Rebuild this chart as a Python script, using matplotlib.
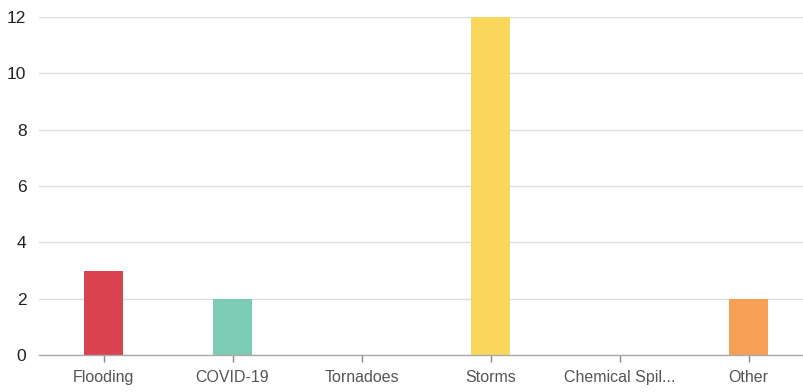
import matplotlib
matplotlib.use("Agg")
import matplotlib.pyplot as plt
import numpy as np

categories = ["Flooding", "COVID-19", "Tornadoes", "Storms", "Chemical Spil...", "Other"]
counts = [3, 2, 0, 12, 0, 2]
colors = ["#d9434e", "#7ccbb5", "#d9434e", "#f9d65c", "#7ccbb5", "#f7a055"]
yticks = [0, 2, 4, 6, 8, 10, 12]

plt.rcParams["font.family"] = ["Liberation Sans", "DejaVu Sans"]

W, H = 804, 392
fig = plt.figure(figsize=(W / 100, H / 100), dpi=100)
left, right, top, bottom = 39, 804, 17, 355
ax = fig.add_axes([left / W, 1 - bottom / H, (right - left) / W, (bottom - top) / H])

x = np.arange(len(categories))
ax.bar(x, counts, width=0.3, color=colors, zorder=3)

ax.set_xlim(-0.5, 5.43)
ax.set_ylim(0, 12)
ax.set_yticks(yticks)
ax.set_xticks(x)
ax.set_xticklabels(categories, fontsize=11.5, color="#555555")
ax.tick_params(axis="y", length=0, pad=9, labelsize=12.5, labelcolor="#222222")
ax.tick_params(axis="x", length=5, width=1, color="#888888", pad=6)

ax.yaxis.grid(True, color="#dddddd", linewidth=1, zorder=0)
for side in ("top", "right", "left"):
    ax.spines[side].set_visible(False)
ax.spines["bottom"].set_color("#aaaaaa")
ax.spines["bottom"].set_linewidth(1)
ax.spines["bottom"].set_zorder(4)

fig.savefig("out.png", dpi=100)
